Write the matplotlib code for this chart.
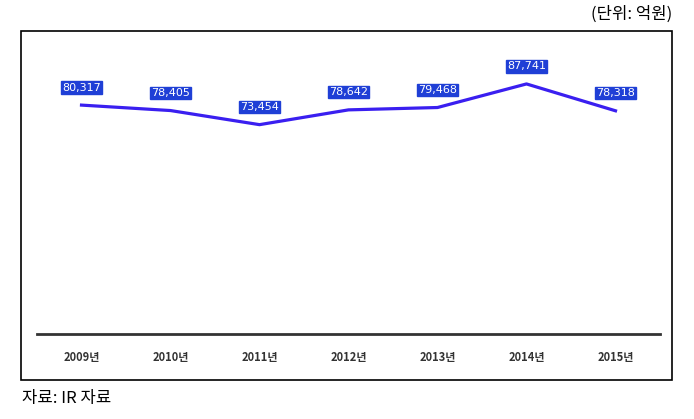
import numpy as np
import matplotlib.pyplot as plt
from matplotlib.patches import Rectangle

plt.rcParams['font.family'] = ['Noto Sans CJK KR', 'DejaVu Sans']

years = ['2009년', '2010년', '2011년', '2012년', '2013년', '2014년', '2015년']
values = [80317, 78405, 73454, 78642, 79468, 87741, 78318]

W, H = 694, 419
fig = plt.figure(figsize=(W / 100, H / 100), dpi=100)

# outer frame
fig.patches.append(Rectangle((21 / W, 1 - 380 / H), (672 - 21) / W, (380 - 31) / H,
                             transform=fig.transFigure, fill=False,
                             edgecolor='black', linewidth=1.2))

ax = fig.add_axes([37 / W, 1 - 334 / H, (660 - 37) / W, (334 - 49) / H])
x = np.arange(len(years))
ax.plot(x, values, color='#3a1ff0', linewidth=2.3)
for xi, v in zip(x, values):
    ax.annotate(f'{v:,}', (xi, v), xytext=(0, 9), textcoords='offset points',
                ha='center', va='bottom', color='white', fontsize=8,
                family='Liberation Sans Narrow',
                bbox=dict(boxstyle='square,pad=0.1', facecolor='#1f3fd6',
                          edgecolor='#1f3fd6'))

ax.set_xlim(-0.5, len(years) - 0.5)
ax.set_ylim(0, 100000)
ax.set_yticks([])
ax.set_xticks(x)
ax.set_xticklabels(years, fontsize=8, fontweight='bold')
ax.tick_params(axis='x', length=0, pad=12, colors='#333333')
for s in ['top', 'left', 'right']:
    ax.spines[s].set_visible(False)
ax.spines['bottom'].set_color('#333333')
ax.spines['bottom'].set_linewidth(2)

fig.text(672 / W, 1 - 14 / H, '(단위: 억원)', ha='right', va='center', fontsize=12)
fig.text(22 / W, 1 - 398 / H, '자료: IR 자료', ha='left', va='center', fontsize=12)

plt.savefig('out.png', dpi=100)
